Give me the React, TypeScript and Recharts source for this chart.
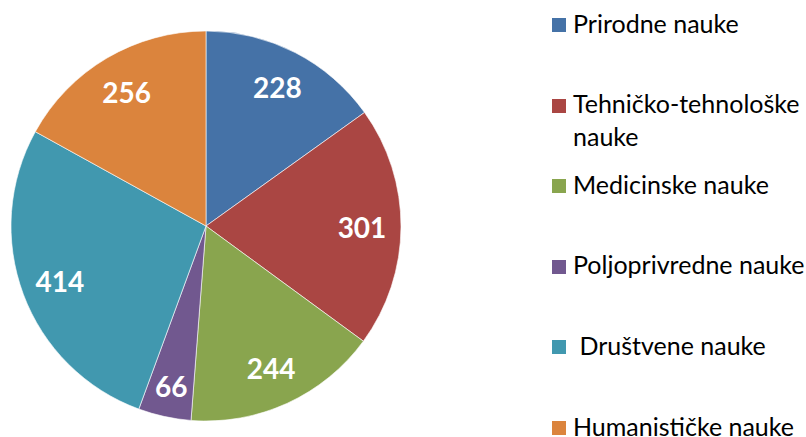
import React from "react";
import { PieChart, Pie, Cell, Legend } from "recharts";

const categories = [
  "Prirodne nauke",
  "Tehničko-tehnološke nauke",
  "Medicinske nauke",
  "Poljoprivredne nauke",
  " Društvene nauke",
  "Humanističke nauke",
];
const values = [228, 301, 244, 66, 414, 256];
const colors = ["#4572A7", "#AA4643", "#89A54E", "#71588F", "#4198AF", "#DB843D"];

const data = categories.map((name, i) => ({ name, value: values[i] }));

const FONT = "Lato, 'Open Sans', sans-serif";
const RAD = Math.PI / 180;

const renderLabel = (props: any) => {
  const { cx, cy, midAngle, outerRadius, value, index } = props;
  const r = outerRadius * (index === 3 ? 0.84 : 0.8);
  const x = cx + r * Math.cos(-midAngle * RAD);
  const y = cy + r * Math.sin(-midAngle * RAD);
  return (
    <text
      x={x}
      y={y}
      fill="#ffffff"
      textAnchor="middle"
      dominantBaseline="central"
      fontFamily={FONT}
      fontWeight={700}
      fontSize={28}
    >
      {value}
    </text>
  );
};

const LegendContent = () => (
  <div style={{ fontFamily: FONT, fontSize: 25, color: "#000" }}>
    {categories.map((name, i) => {
      const last = i === categories.length - 1;
      const lh = last ? 20 : 33;
      return (
        <div
          key={name}
          style={{
            position: "absolute",
            left: 0,
            top: 7.5 + i * 80.5 + (33 - lh) / 2,
            display: "flex",
            alignItems: "flex-start",
          }}
        >
          <div
            style={{
              width: 14,
              height: 14,
              background: colors[i],
              marginTop: lh / 2 - 6,
              marginRight: 7,
              flex: "0 0 auto",
            }}
          />
          <div style={{ width: 240, lineHeight: `${lh}px`, whiteSpace: "pre-wrap", marginTop: -1 }}>
            {name}
          </div>
        </div>
      );
    })}
  </div>
);

export default function App() {
  return (
    <div style={{ position: "absolute", left: 0, top: 0, width: 806, height: 437, background: "#fff" }}>
      <PieChart width={806} height={437} margin={{ top: 0, right: 0, bottom: 0, left: 0 }}>
        <Pie
          data={data}
          dataKey="value"
          nameKey="name"
          cx={206}
          cy={226}
          outerRadius={195}
          startAngle={90}
          endAngle={-270}
          stroke="#ffffff"
          strokeWidth={0.6}
          label={renderLabel}
          labelLine={false}
          isAnimationActive={false}
        >
          {data.map((d, i) => (
            <Cell key={d.name} fill={colors[i]} />
          ))}
        </Pie>
        <Legend
          content={<LegendContent />}
          wrapperStyle={{ position: "absolute", left: 552, top: 0, width: 254, height: 437 }}
        />
      </PieChart>
    </div>
  );
}
